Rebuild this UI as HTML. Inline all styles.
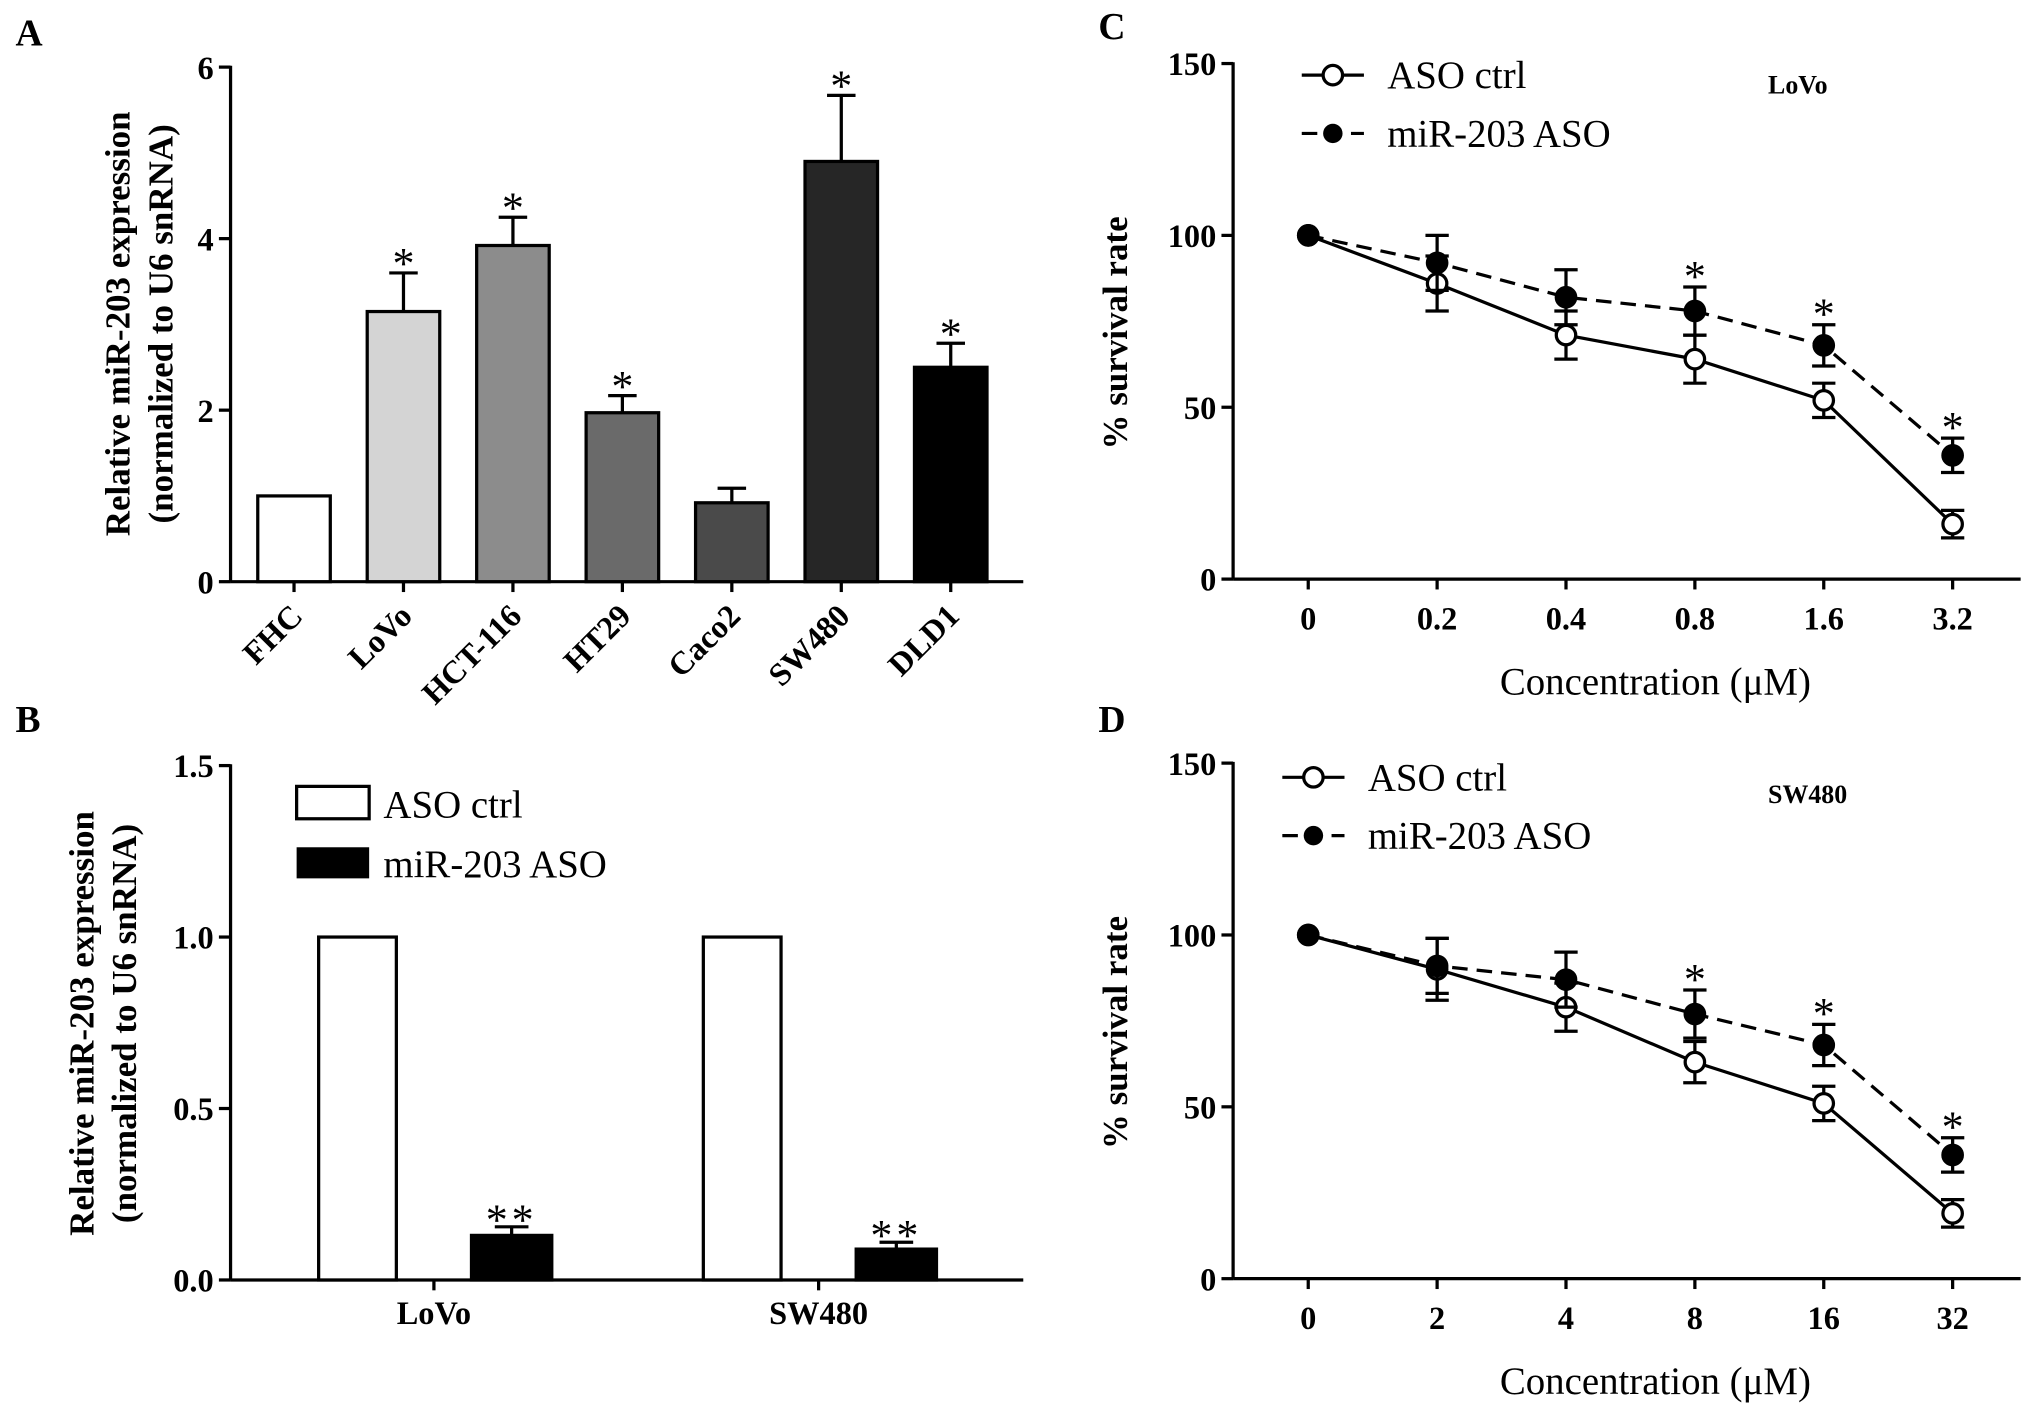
<!DOCTYPE html>
<html><head><meta charset="utf-8"><style>html,body{margin:0;padding:0;background:#fff}svg{display:block}text{font-family:"Liberation Serif",serif}</style></head>
<body>
<svg id="fig" width="2031" height="1416" viewBox="0 0 1568 1093" preserveAspectRatio="none" xmlns="http://www.w3.org/2000/svg"></svg>
<script>
// Panel A data
const aCats=["FHC","LoVo","HCT-116","HT29","Caco2","SW480","DLD1"];
const aVals=[1,3.15,3.92,1.97,0.92,4.9,2.5];
const aErrs=[0,0.45,0.33,0.2,0.17,0.77,0.28];
const aStar=[false,true,true,true,false,true,true];
const aTicks=[0,2,4,6];
// Panel B data
const bGroups=["LoVo","SW480"];
const bCtrl=[1,1];
const bAso=[0.13,0.09];
const bAsoErr=[0.025,0.02];
const bTicks=[0,0.5,1.0,1.5];
const bTickLabels=["0.0","0.5","1.0","1.5"];
// Panel C data
const cLabels=["0","0.2","0.4","0.8","1.6","3.2"];
const cCtrl=[100,86,71,64,52,16];
const cCtrlErr=[0,8,7,7,5,4];
const cAso=[100,92,82,78,68,36];
const cAsoErr=[0,8,8,7,6,5];
const cStar=[false,false,false,true,true,true];
// Panel D data
const dLabels=["0","2","4","8","16","32"];
const dCtrl=[100,90,79,63,51,19];
const dCtrlErr=[0,9,7,6,5,4];
const dAso=[100,91,87,77,68,36];
const dAsoErr=[0,8,8,7,6,5];
const dStar=[false,false,false,true,true,true];
const survTicks=[0,50,100,150];

const svg=document.getElementById('fig');
const NS="http://www.w3.org/2000/svg";
function el(tag,attrs,parent){const e=document.createElementNS(NS,tag);for(const k in attrs)e.setAttribute(k,attrs[k]);(parent||svg).appendChild(e);return e;}
function txt(s,attrs,parent){const t=el('text',attrs,parent);t.textContent=s;return t;}
function line(x1,y1,x2,y2,g,extra){return el('line',Object.assign({x1,y1,x2,y2,stroke:'#000','stroke-width':2.5},extra||{}),g);}

[["A",12,35],["B",12,565],["C",848,30],["D",848,565]].forEach(([s,x,y])=>{
 const t=txt(s,{x,y,'font-size':29,'font-weight':'bold'});
 
 
});

// ---------- Panel A ----------
(function(){
 const g=el('g',{});
 
 
 const x0=178,xEnd=790,y0=449,ppu=66.2;
 const yS=v=>y0-v*ppu;
 const xS=i=>227+i*84.5;
 line(x0,yS(6)-1,x0,y0,g);line(x0,y0,xEnd,y0,g);
 aTicks.forEach(t=>{line(x0-9,yS(t),x0,yS(t),g);const l=txt(String(t),{x:x0-13,y:yS(t)+9,'font-size':25,'font-weight':'bold','text-anchor':'end'},g);});
 const fills=["#ffffff","#d4d4d4","#8c8c8c","#6a6a6a","#4a4a4a","#262626","#000000"];
 aCats.forEach((c,i)=>{
  const cx=xS(i),w=56;
  if(aErrs[i]>0){line(cx,yS(aVals[i]),cx,yS(aVals[i]+aErrs[i]),g);line(cx-11,yS(aVals[i]+aErrs[i]),cx+11,yS(aVals[i]+aErrs[i]),g);}
  const r=el('rect',{x:cx-w/2,y:yS(aVals[i]),width:w,height:aVals[i]*ppu,fill:fills[i],stroke:'#000','stroke-width':2.5},g);
  
  
  line(cx,y0,cx,y0+8,g);
  if(aStar[i]){const s=txt('*',{x:cx,y:yS(aVals[i]+aErrs[i])+4,'font-size':34,'text-anchor':'middle'},g);}
  const l=txt(c,{x:cx+8,y:y0+28,'font-size':25,'font-weight':'bold','text-anchor':'end',transform:`rotate(-45 ${cx+8} ${y0+28})`},g);
  
  
 });
 const yt=txt('',{x:0,y:0,'font-size':27,'font-weight':'bold','text-anchor':'middle',transform:'translate(100 250) rotate(-90)'},g);
 
 
 const t1=el('tspan',{x:0,y:0},yt);t1.textContent='Relative miR-203 expression';
 const t2=el('tspan',{x:0,y:33},yt);t2.textContent='(normalized to U6 snRNA)';
})();

// ---------- Panel B ----------
(function(){
 const g=el('g',{});
 
 
 const x0=178,xEnd=790,y0=988,ppu=264.7;
 const yS=v=>y0-v*ppu;
 const gc=i=>335+i*297;
 line(x0,yS(1.5)-1,x0,y0,g);line(x0,y0,xEnd,y0,g);
 bTicks.forEach((t,i)=>{line(x0-9,yS(t),x0,yS(t),g);const l=txt(bTickLabels[i],{x:x0-13,y:yS(t)+9,'font-size':25,'font-weight':'bold','text-anchor':'end'},g);});
 bGroups.forEach((gName,i)=>{
  const c=gc(i),w=60;
  const r1=el('rect',{x:c-89,y:yS(bCtrl[i]),width:w,height:bCtrl[i]*ppu,fill:'#fff',stroke:'#000','stroke-width':2.5},g);
  
  
  const top=yS(bAso[i]+bAsoErr[i]);
  line(c+60,yS(bAso[i]),c+60,top,g);line(c+47,top,c+73,top,g);
  const r2=el('rect',{x:c+29,y:yS(bAso[i]),width:62,height:bAso[i]*ppu,fill:'#000',stroke:'#000','stroke-width':2.5},g);
  
  
  const s=txt('**',{x:c+60,y:top+6,'font-size':34,'text-anchor':'middle','letter-spacing':3},g);
  
  
  line(c,y0,c,y0+8,g);
  const l=txt(gName,{x:c,y:y0+34,'font-size':25,'font-weight':'bold','text-anchor':'middle'},g);
  
  
 });
 const lg=el('g',{},g);
 
 
 el('rect',{x:229,y:607,width:56,height:25,fill:'#fff',stroke:'#000','stroke-width':2.5},lg);
 el('rect',{x:229,y:654,width:56,height:24,fill:'#000'},lg);
 txt('ASO ctrl',{x:296,y:631,'font-size':30},lg);
 txt('miR-203 ASO',{x:296,y:677,'font-size':30},lg);
 const yt=txt('',{x:0,y:0,'font-size':27,'font-weight':'bold','text-anchor':'middle',transform:'translate(72 790) rotate(-90)'},g);
 
 
 const t1=el('tspan',{x:0,y:0},yt);t1.textContent='Relative miR-203 expression';
 const t2=el('tspan',{x:0,y:33},yt);t2.textContent='(normalized to U6 snRNA)';
})();

// ---------- Panels C & D ----------
function linePanel(name,y0,labels,ctrl,ctrlErr,aso,asoErr,star,cell,legX,legY,cellY){
 const g=el('g',{});
 
 
 const x0=952,xEnd=1560,ppu=2.653;
 const yS=v=>y0-v*ppu;
 const xS=i=>1010+i*99.5;
 line(x0,yS(150)-1,x0,y0,g);line(x0,y0,xEnd,y0,g);
 survTicks.forEach(t=>{line(x0-9,yS(t),x0,yS(t),g);const l=txt(String(t),{x:x0-13,y:yS(t)+9,'font-size':25,'font-weight':'bold','text-anchor':'end'},g);});
 labels.forEach((lb,i)=>{line(xS(i),y0,xS(i),y0+8,g);const l=txt(lb,{x:xS(i),y:y0+39,'font-size':25,'font-weight':'bold','text-anchor':'middle'},g);});
 function series(vals,errs,dashed,filled,sname){
  const sg=el('g',{},g);
  
  
  vals.forEach((v,i)=>{if(errs[i]>0){const a=yS(v+errs[i]),b=yS(v-errs[i]);line(xS(i),a,xS(i),b,sg);line(xS(i)-9,a,xS(i)+9,a,sg);line(xS(i)-9,b,xS(i)+9,b,sg);}});
  el('polyline',{points:vals.map((v,i)=>xS(i)+','+yS(v)).join(' '),fill:'none',stroke:'#000','stroke-width':2.5,'stroke-dasharray':dashed?'12,7':'none'},sg);
  vals.forEach((v,i)=>{const c=el('circle',{cx:xS(i),cy:yS(v),r:7.5,fill:filled?'#000':'#fff',stroke:'#000','stroke-width':2.5},sg);});
 }
 series(ctrl,ctrlErr,false,false,'aso-ctrl');
 series(aso,asoErr,true,true,'mir203-aso');
 star.forEach((s,i)=>{if(s){const t=txt('*',{x:xS(i),y:yS(aso[i]+asoErr[i])+3,'font-size':34,'text-anchor':'middle'},g);}});
 const lg=el('g',{},g);
 
 
 line(legX,legY,legX+48,legY,lg);el('circle',{cx:legX+24,cy:legY,r:7.5,fill:'#fff',stroke:'#000','stroke-width':2.5},lg);
 line(legX,legY+45,legX+48,legY+45,lg,{'stroke-dasharray':'12,7'});el('circle',{cx:legX+24,cy:legY+45,r:7.5,fill:'#000'},lg);
 txt('ASO ctrl',{x:legX+66,y:legY+10,'font-size':30},lg);
 txt('miR-203 ASO',{x:legX+66,y:legY+55,'font-size':30},lg);
 const ct=txt(cell,{x:1365,y:cellY,'font-size':20,'font-weight':'bold'},g);
 
 
 const xt=txt('Concentration (\u03bcM)',{x:1278,y:y0+89,'font-size':30,'text-anchor':'middle'},g);
 
 
 const yt=txt('% survival rate',{x:0,y:0,'font-size':27,'font-weight':'bold','text-anchor':'middle',transform:`translate(870 ${y0-190}) rotate(-90)`},g);
 
 
}
linePanel('c',447,cLabels,cCtrl,cCtrlErr,cAso,cAsoErr,cStar,'LoVo',1005,58,72);
linePanel('d',987,dLabels,dCtrl,dCtrlErr,dAso,dAsoErr,dStar,'SW480',990,600,620);
</script>
</body></html>
